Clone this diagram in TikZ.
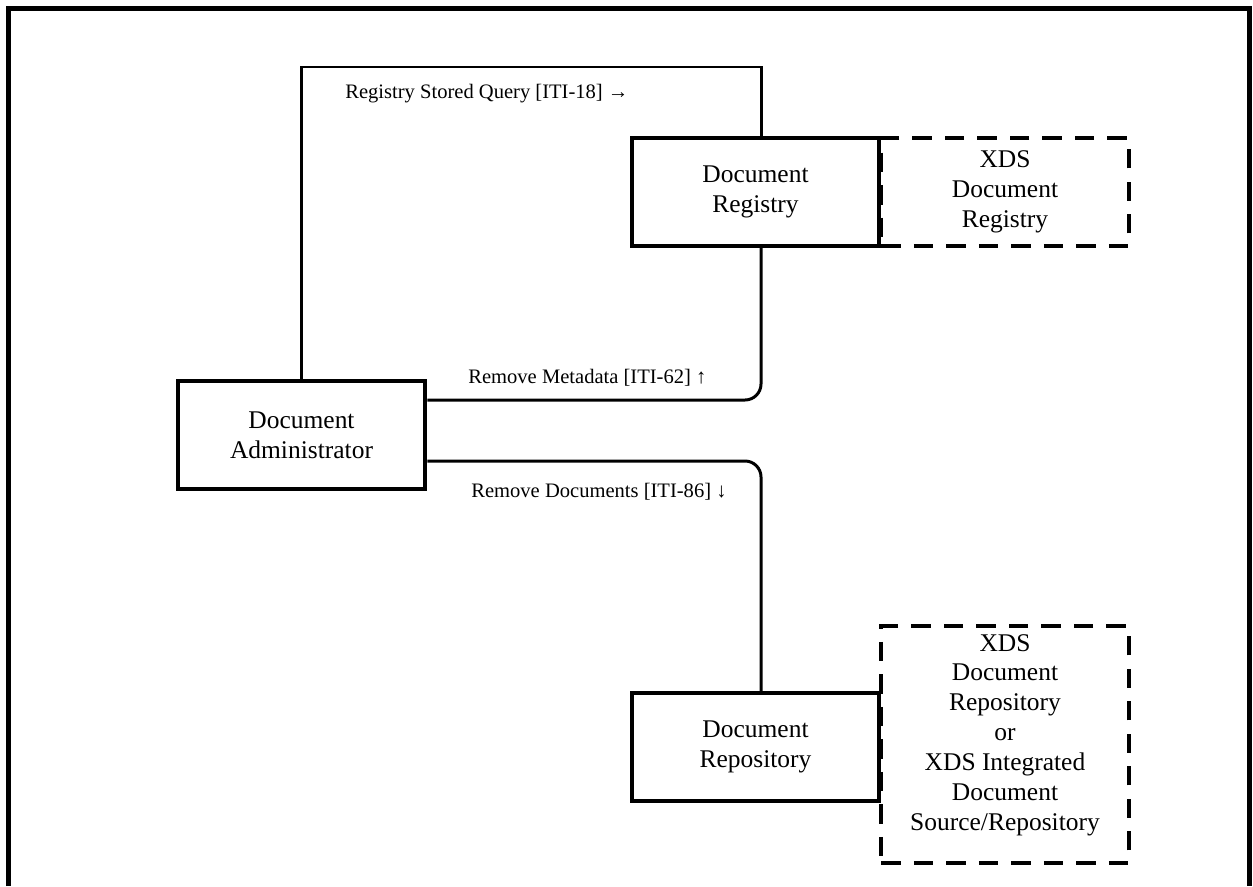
\documentclass[tikz,border=0pt]{standalone}
\usepackage{fontspec}
\setmainfont{Liberation Serif}
\usetikzlibrary{positioning}
\tikzset{
    actor/.style = {draw, line width = 2.3pt, minimum width = 4.95cm, minimum height = 2.16cm,
        align = center, inner sep = 2pt, font = \fontsize{14.5}{17}\selectfont},
    group/.style = {actor, dash pattern = on 11pt off 7.5pt},
    link/.style = {line width = 1.7pt},
    tlabel/.style = {anchor = west, inner sep = 0pt, font = \fontsize{11.7}{14}\selectfont}
}

\begin{document}
\begin{tikzpicture}[x = 0.02cm, y = -0.02cm]
    \useasboundingbox (0,0) rectangle (1253,886);
    \draw[line width = 2.7pt] (8.5,886) -- (8.5,8.5) -- (1249.5,8.5) -- (1249.5,886);
    \node[group] (xdsreg) at (1005,192) {XDS\\Document\\Registry};
    \node[group, minimum height = 4.74cm, text depth = 14pt] (xdsrepo) at (1005,744.5) {XDS\\Document\\Repository\\or\\XDS Integrated\\Document\\Source/Repository};
    \node[actor, fill = white] (admin) at (301.5,435) {Document\\Administrator};
    \node[actor, fill = white] (reg) at (755.5,192) {Document\\Registry};
    \node[actor, fill = white] (repo) at (755.5,747) {Document\\Repository};
    \coordinate (q) at (761,67);
    \coordinate (m) at (761,400);
    \coordinate (d) at (761,461);
    \draw[link] (admin.north) |- (q) -- (q |- reg.north);
    \draw[link, rounded corners = 0.32cm] (admin.east |- m) -| (m |- reg.south);
    \draw[link, rounded corners = 0.32cm] (admin.east |- d) -| (d |- repo.north);
    \node[tlabel] (lq) at (345,94) {Registry Stored Query [ITI-18] →};
    \node[tlabel] (lm) at (468,378) {Remove Metadata [ITI-62] ↑};
    \node[tlabel] (ld) at (471,492) {Remove Documents [ITI-86] ↓};
\end{tikzpicture}
\end{document}
